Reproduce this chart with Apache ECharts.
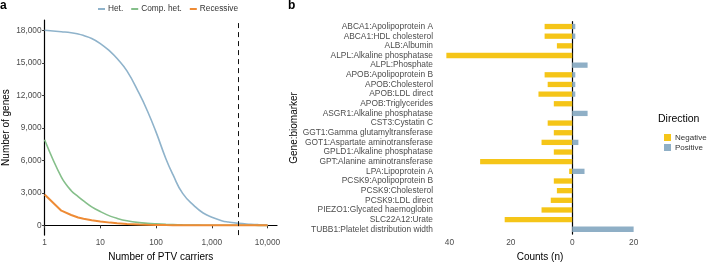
<!DOCTYPE html>
<html>
<head>
<meta charset="utf-8">
<script src="https://cdn.jsdelivr.net/npm/echarts@6/dist/echarts.min.js"></script>
<style>
  html, body { margin: 0; padding: 0; background: #fff; }
  #chart { width: 708px; height: 267px; }
</style>
</head>
<body>
<div id="chart"></div>
<script>
"use strict";

// panel a: number of genes with at least N PTV carriers
var carriers = [1, 2, 3, 4, 5, 7, 10, 15, 20, 30, 50, 70, 100, 150, 200, 300, 500, 700, 1000, 1500, 2000, 3000, 5000, 7000, 10000];
var hetGenes = [18000, 17870, 17780, 17660, 17520, 17250, 16780, 16050, 15400, 14250, 12150, 10550, 8600, 6150, 4700, 2950, 1730, 1140, 750, 430, 300, 180, 100, 60, 30];
var compHetGenes = [7900, 4450, 3200, 2650, 2250, 1700, 1270, 850, 640, 420, 250, 190, 140, 90, 65, 40, 20, 12, 8, 5, 3, 2, 1, 0, 0];
var recessiveGenes = [2850, 1350, 950, 720, 600, 470, 360, 250, 190, 130, 80, 55, 40, 25, 18, 10, 6, 4, 3, 2, 1, 1, 0, 0, 0];
var cutoffCarriers = 2930;
var xTicksA = [1, 10, 100, 1000, 10000];
var yTicksA = [0, 3000, 6000, 9000, 12000, 15000, 18000];

// panel b: counts per gene:biomarker pair
var biomarkers = [
    'ABCA1:Apolipoprotein A', 'ABCA1:HDL cholesterol', 'ALB:Albumin', 'ALPL:Alkaline phosphatase',
    'ALPL:Phosphate', 'APOB:Apolipoprotein B', 'APOB:Cholesterol', 'APOB:LDL direct',
    'APOB:Triglycerides', 'ASGR1:Alkaline phosphatase', 'CST3:Cystatin C', 'GGT1:Gamma glutamyltransferase',
    'GOT1:Aspartate aminotransferase', 'GPLD1:Alkaline phosphatase', 'GPT:Alanine aminotransferase', 'LPA:Lipoprotein A',
    'PCSK9:Apolipoprotein B', 'PCSK9:Cholesterol', 'PCSK9:LDL direct', 'PIEZO1:Glycated haemoglobin',
    'SLC22A12:Urate', 'TUBB1:Platelet distribution width'
];
var negativeCounts = [9, 9, 5, 41, 0, 9, 8, 11, 6, 0, 8, 6, 10, 6, 30, 1, 6, 5, 7, 10, 22, 0];
var positiveCounts = [1, 1, 0, 0, 5, 1, 1, 1, 0, 5, 0, 0, 2, 0, 0, 4, 0, 0, 0, 0, 0, 20];
var xTicksB = [-40, -20, 0, 20];

var FONT = "'Liberation Sans', Arial, sans-serif";

function toPoints(values) {
    return carriers.map(function (c, i) { return [Math.log10(c), values[i]]; });
}

var chart = echarts.init(document.getElementById('chart'), null, { renderer: 'canvas' });

var axisLineStyle = { color: '#000', width: 1.2 };
var tickLabel = { fontFamily: FONT, fontSize: 8.3, color: '#4d4d4d' };

var option = {
    backgroundColor: '#fff',
    animation: false,
    textStyle: { fontFamily: FONT },
    graphic: [
        { type: 'text', left: 0, top: 0, style: { text: 'a', font: 'bold 12px ' + FONT, fill: '#000' } },
        { type: 'text', left: 288, top: 0, style: { text: 'b', font: 'bold 12px ' + FONT, fill: '#000' } },
        { type: 'text', left: 658, top: 114, style: { text: 'Direction', font: '10.5px ' + FONT, fill: '#000' } }
    ],
    legend: [
        {
            left: 93, top: 0, itemWidth: 7, itemHeight: 2, itemGap: 8, icon: 'rect',
            textStyle: { fontFamily: FONT, fontSize: 8.3, color: '#333', padding: [0, 0, 0, -2] },
            data: ['Het.', 'Comp. het.', 'Recessive']
        },
        {
            left: 659, top: 128, orient: 'vertical', itemWidth: 7, itemHeight: 7, itemGap: 1, icon: 'rect',
            textStyle: { fontFamily: FONT, fontSize: 8, color: '#333', lineHeight: 9, padding: [0, 0, 0, -1] },
            data: ['Negative', 'Positive']
        }
    ],
    grid: [
        { left: 44.6, top: 20, width: 232.4, height: 221 },
        { left: 437, top: 21.7, width: 206, height: 218.3 }
    ],
    xAxis: [
        {
            gridIndex: 0, type: 'value', min: 0, max: 4.17,
            name: 'Number of PTV carriers', nameLocation: 'middle', nameGap: 12,
            nameTextStyle: { fontFamily: FONT, fontSize: 10, color: '#000' },
            axisLine: { lineStyle: axisLineStyle },
            axisTick: { show: true, length: 3, customValues: xTicksA.map(Math.log10), lineStyle: { color: '#333' } },
            axisLabel: Object.assign({
                margin: 4,
                customValues: xTicksA.map(Math.log10),
                formatter: function (v) { return Math.round(Math.pow(10, v)).toLocaleString('en-US'); }
            }, tickLabel),
            splitLine: { show: false }
        },
        {
            gridIndex: 1, type: 'value', min: -44.05, max: 23.05,
            name: 'Counts (n)', nameLocation: 'middle', nameGap: 12,
            nameTextStyle: { fontFamily: FONT, fontSize: 10, color: '#000' },
            axisLine: { lineStyle: axisLineStyle },
            axisTick: { show: false },
            axisLabel: Object.assign({
                margin: 5,
                customValues: xTicksB,
                formatter: function (v) { return String(Math.abs(v)); }
            }, tickLabel),
            splitLine: { show: false }
        }
    ],
    yAxis: [
        {
            gridIndex: 0, type: 'value', min: -902, max: 18952,
            name: 'Number of genes', nameLocation: 'middle', nameGap: 33,
            nameTextStyle: { fontFamily: FONT, fontSize: 10, color: '#000' },
            axisLine: { show: true, lineStyle: axisLineStyle },
            axisTick: { show: true, length: 2.5, customValues: yTicksA, lineStyle: { color: '#333' } },
            axisLabel: Object.assign({
                margin: 3,
                customValues: yTicksA,
                formatter: function (v) { return v.toLocaleString('en-US'); }
            }, tickLabel),
            splitLine: { show: false }
        },
        {
            gridIndex: 1, type: 'category', inverse: true, data: biomarkers,
            name: 'Gene:biomarker', nameLocation: 'middle', nameGap: 134,
            nameTextStyle: { fontFamily: FONT, fontSize: 10, color: '#000' },
            axisLine: { show: true, lineStyle: axisLineStyle },
            axisTick: { show: false },
            axisLabel: Object.assign({ margin: 4, interval: 0 }, tickLabel, { fontSize: 8.4 }),
            splitLine: { show: false }
        }
    ],
    series: [
        {
            name: 'Het.', type: 'line', xAxisIndex: 0, yAxisIndex: 0,
            data: toPoints(hetGenes), showSymbol: false, symbol: 'none', smooth: 0.5,
            color: '#8fb3cb', lineStyle: { width: 1.6 },
            markLine: {
                silent: true, symbol: 'none', label: { show: false },
                lineStyle: { color: '#111', width: 1, type: [5, 4] },
                data: [{ xAxis: Math.log10(cutoffCarriers) }]
            }
        },
        {
            name: 'Comp. het.', type: 'line', xAxisIndex: 0, yAxisIndex: 0,
            data: toPoints(compHetGenes), showSymbol: false, symbol: 'none', smooth: 0.4,
            color: '#85bf8a', lineStyle: { width: 1.6 }
        },
        {
            name: 'Recessive', type: 'line', xAxisIndex: 0, yAxisIndex: 0,
            data: toPoints(recessiveGenes), showSymbol: false, symbol: 'none',
            color: '#ee8b35', lineStyle: { width: 2 }
        },
        {
            name: 'Negative', type: 'bar', xAxisIndex: 1, yAxisIndex: 1, stack: 'dir',
            data: negativeCounts.map(function (v) { return -v; }),
            color: '#f5c518', barWidth: '55%'
        },
        {
            name: 'Positive', type: 'bar', xAxisIndex: 1, yAxisIndex: 1, stack: 'dir',
            data: positiveCounts,
            color: '#8fafc6', barWidth: '55%'
        }
    ]
};

chart.setOption(option);
</script>
</body>
</html>
